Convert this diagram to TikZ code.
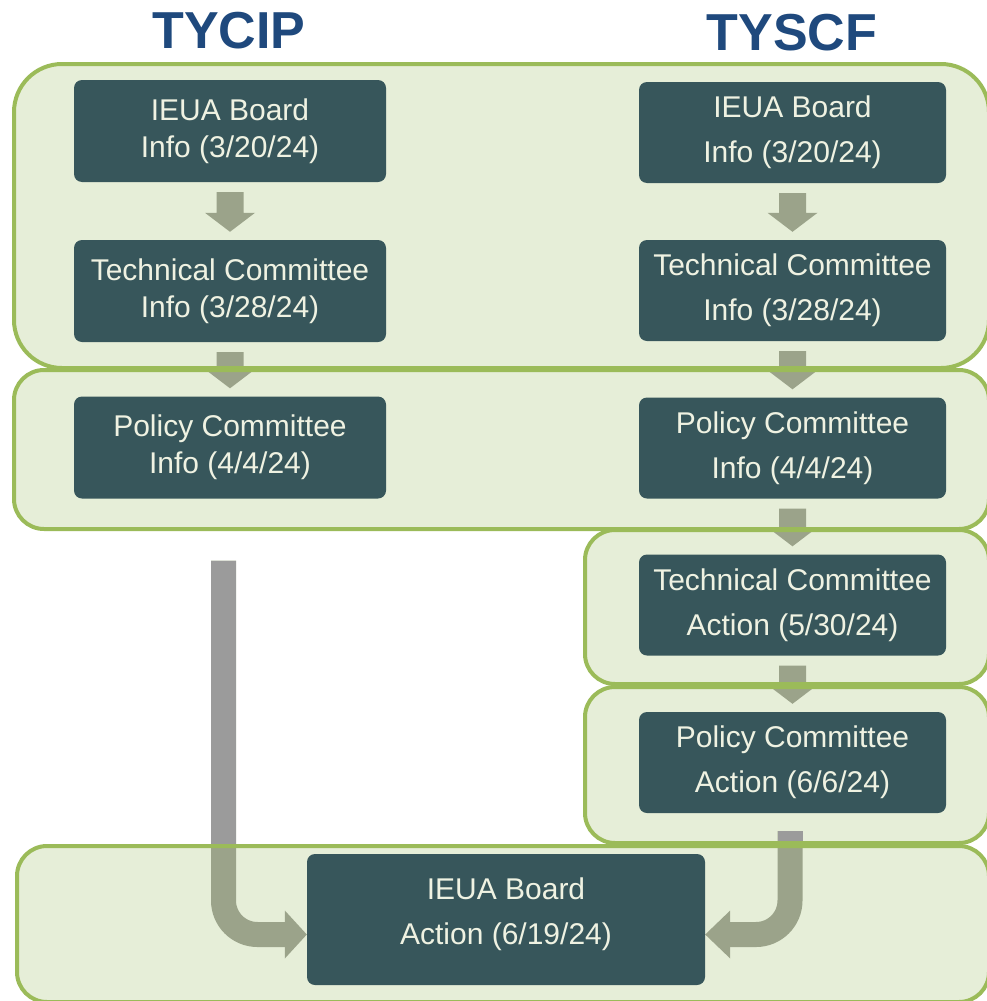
\documentclass[tikz,border=0pt]{standalone}
\usepackage{fontspec}
\setmainfont{Liberation Sans}
\usetikzlibrary{calc}
\definecolor{panefill}{HTML}{E6EED8}
\definecolor{paneline}{HTML}{9BBB59}
\definecolor{boxfill}{HTML}{37565B}
\definecolor{boxtext}{HTML}{EFF2E2}
\definecolor{arrowgreen}{HTML}{9BA38A}
\definecolor{arrowgray}{HTML}{9B9B9B}
\definecolor{titleblue}{HTML}{1F497D}
\pgfdeclarelayer{bg}
\pgfdeclarelayer{mid}
\pgfsetlayers{bg,mid,main}
\newcommand\dnarrow[2]{%
  \fill[arrowgreen] let \p1=($(#1.south)+(0,10)$), \p2=($(#2.north)+(0,-8)$) in
  (\x1-13.5pt,\y1) -- (\x1+13.5pt,\y1) -- (\x1+13.5pt,\y2+19pt) -- (\x1+25pt,\y2+19pt)
  -- (\x1,\y2) -- (\x1-25pt,\y2+19pt) -- (\x1-13.5pt,\y2+19pt) -- cycle;}
\begin{document}
\begin{tikzpicture}[x=1pt,y=-1pt,
  stepbox/.style={fill=boxfill, text=boxtext, rounded corners=8pt, align=center, inner sep=0pt},
  lbox/.style={stepbox, minimum width=312pt, minimum height=102pt, font=\fontsize{30}{37}\selectfont},
  rbox/.style={stepbox, minimum width=307pt, minimum height=101pt, font=\fontsize{30}{45}\selectfont},
  title/.style={text=titleblue, font=\fontsize{52}{60}\selectfont\bfseries, anchor=base},
  bigarrow/.style={draw=arrowgreen, line width=25pt, rounded corners=34pt},
  panelline/.style={draw=paneline, line width=4pt},
]
\useasboundingbox (0,0) rectangle (986,1001);

% titles
\node[title] (t1) at (229,48) {TYCIP};
\node[title] (t2) at (792,50) {TYSCF};

% left column
\node[lbox] (L1) at (230,131) {IEUA Board\\Info (3/20/24)};
\node[lbox] (L2) at (230,291) {Technical Committee\\Info (3/28/24)};
\node[lbox] (L3) at (230,447.5) {Policy Committee\\Info (4/4/24)};

% right column
\node[rbox] (R1) at (792.5,132.5) {IEUA Board\\Info (3/20/24)};
\node[rbox] (R2) at (792.5,290.5) {Technical Committee\\Info (3/28/24)};
\node[rbox] (R3) at (792.5,448) {Policy Committee\\Info (4/4/24)};
\node[rbox] (R4) at (792.5,605) {Technical Committee\\Action (5/30/24)};
\node[rbox] (R5) at (792.5,762.5) {Policy Committee\\Action (6/6/24)};

% bottom
\node[rbox, minimum width=398pt, minimum height=131pt] (B) at (506,919.5) {IEUA Board\\Action (6/19/24)\rule[-16pt]{0pt}{1pt}};

\begin{pgfonlayer}{bg}
  \fill[panefill, rounded corners=48pt] (14,64) rectangle (989,368);
  \fill[panefill, rounded corners=30pt] (14,370) rectangle (989,529);
  \fill[panefill, rounded corners=30pt] (585,530) rectangle (989,684);
  \fill[panefill, rounded corners=30pt] (585,687) rectangle (989,843);
  \fill[panefill, rounded corners=30pt] (17,846) rectangle (989,1002);

  \dnarrow{L1}{L2}
  \dnarrow{L2}{L3}
  \dnarrow{R1}{R2}
  \dnarrow{R2}{R3}
  \dnarrow{R3}{R4}
  \dnarrow{R4}{R5}

  % left bent arrow
  \coordinate (ls) at ($(L3.south)+(-6.5,62)$);
  \coordinate (le) at ($(B.west)+(-21,15)$);
  \draw[bigarrow] (ls) |- (le);
  \fill[arrowgreen] ($(le)+(-1,-24)$) -- ($(B.west)+(0,15)$) -- ($(le)+(-1,24)$) -- cycle;
  \fill[arrowgray] ($(ls)+(-12.5,0)$) rectangle ($(ls)+(12.5,287)$);

  % right bent arrow
  \coordinate (rs) at ($(R5.south)+(-2.5,18)$);
  \coordinate (re) at ($(B.east)+(24,15)$);
  \draw[bigarrow] (rs) |- (re);
  \fill[arrowgreen] ($(re)+(1,-24)$) -- ($(B.east)+(0,15)$) -- ($(re)+(1,24)$) -- cycle;
  \fill[arrowgray] ($(rs)+(-12.5,0)$) rectangle ($(rs)+(12.5,16)$);
\end{pgfonlayer}

\begin{pgfonlayer}{mid}
  \draw[panelline, rounded corners=48pt] (14,64) rectangle (989,368);
  \draw[panelline, rounded corners=30pt] (14,370) rectangle (989,529);
  \draw[panelline, rounded corners=30pt] (585,530) rectangle (989,684);
  \draw[panelline, rounded corners=30pt] (585,687) rectangle (989,843);
  \draw[panelline, rounded corners=30pt] (17,846) rectangle (989,1002);
\end{pgfonlayer}
\end{tikzpicture}
\end{document}
